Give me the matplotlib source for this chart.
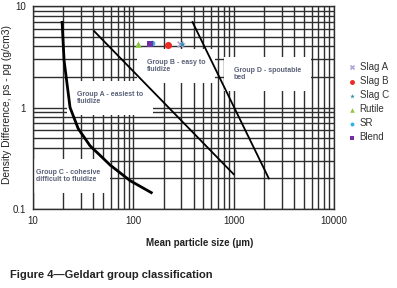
import matplotlib
matplotlib.use("Agg")
import matplotlib.pyplot as plt
from matplotlib.ticker import LogLocator, NullFormatter

plt.rcParams['font.family'] = ['Liberation Sans', 'DejaVu Sans']

# boundary curves (size in um, density difference in g/cm3)
c_size = [19.5, 20.4, 23.4, 28.2, 37, 59, 93, 151]
c_dens = [6.9, 2.92, 1.0, 0.62, 0.42, 0.27, 0.19, 0.145]
ab_size = [40.7, 1000]
ab_dens = [5.65, 0.22]
bd_size = [389, 2240]
bd_dens = [6.94, 0.20]

# material points
names = ['Slag A', 'Slag B', 'Slag C', 'Rutile', 'SR', 'Blend']
sizes = [295, 224, 309, 112, 155, 145]
dens = [4.2, 4.15, 4.25, 4.2, 4.35, 4.2]
markers = ['x', 'o', '*', '^', 'o', 's']
colors = ['#b4a6d8', '#ee2a24', '#2f8ca8', '#8dc63f', '#2fb0e8', '#7030a0']
msizes = [18, 26, 24, 22, 16, 20]

fig = plt.figure(figsize=(3.97, 2.88), dpi=100)
ax = fig.add_axes([33/397, 1-209/288, 301/397, 203/288])
ax.set_xscale('log')
ax.set_yscale('log')
ax.set_xlim(10, 10000)
ax.set_ylim(0.1, 10)

gc = '#2e2e2e'
ax.xaxis.set_minor_locator(LogLocator(base=10, subs=range(2, 10)))
ax.yaxis.set_minor_locator(LogLocator(base=10, subs=range(2, 10)))
ax.xaxis.set_minor_formatter(NullFormatter())
ax.yaxis.set_minor_formatter(NullFormatter())
ax.set_xticks([10, 100, 1000, 10000])
ax.set_xticklabels(['10', '100', '1000', '10000'])
ax.set_yticks([0.1, 1, 10])
ax.set_yticklabels(['0.1', '1', '10'])
ax.grid(True, which='both', color=gc, linewidth=1.0)
ax.set_axisbelow(True)
ax.tick_params(which='both', length=0, labelsize=7, colors='#222222', pad=5)
for s in ax.spines.values():
    s.set_color(gc)
    s.set_linewidth(1.0)

ax.plot(c_size, c_dens, color='black', linewidth=2.0, zorder=3)
ax.plot(ab_size, ab_dens, color='black', linewidth=1.3, zorder=3)
ax.plot(bd_size, bd_dens, color='black', linewidth=1.3, zorder=3)

for n, s, d, m, c, ms in zip(names, sizes, dens, markers, colors, msizes):
    ax.scatter([s], [d], marker=m, color=c, s=ms, label=n, zorder=4,
               linewidths=1.2 if m == 'x' else 0)


def px(x, y):
    return (x - 33) / 301, (209 - y) / 203


tc = '#5a6078'
box = dict(facecolor='white', edgecolor='none', pad=7)
labels = [('Group A - easiest to\nfluidize', 77, 91),
          ('Group B - easy to\nfluidize', 147, 59),
          ('Group C - cohesive\ndifficult to fluidize', 36, 169),
          ('Group D - spoutable\nbed', 234, 67)]
for txt, x, y in labels:
    ax.text(*px(x, y), txt, transform=ax.transAxes, fontsize=5, color=tc,
            ha='left', va='top', bbox=box, zorder=2.5, linespacing=1.0,
            fontweight='bold')

ax.set_xlabel('Mean particle size (\u00b5m)', fontsize=7, fontweight='bold',
              color='#222222')
ax.xaxis.set_label_coords((200 - 33) / 301, (209 - 238) / 203)
ax.set_ylabel('Density Difference, ps - pg (g/cm3)', fontsize=7.4,
              color='#222222')
ax.yaxis.set_label_coords((12 - 33) / 301, (209 - 105) / 203)

ax.legend(loc='upper left', bbox_to_anchor=(347/397, 1-62/288),
          bbox_transform=fig.transFigure, frameon=False, fontsize=7,
          handletextpad=0.3, labelspacing=0.42, handlelength=1.0,
          borderaxespad=0, borderpad=0, markerscale=0.7, labelcolor='#333333')

fig.text(10/397, 1-275/288, 'Figure 4\u2014Geldart group classification',
         fontsize=8, fontweight='bold', color='#222222', ha='left', va='center')

fig.savefig('out.png', dpi=100)
